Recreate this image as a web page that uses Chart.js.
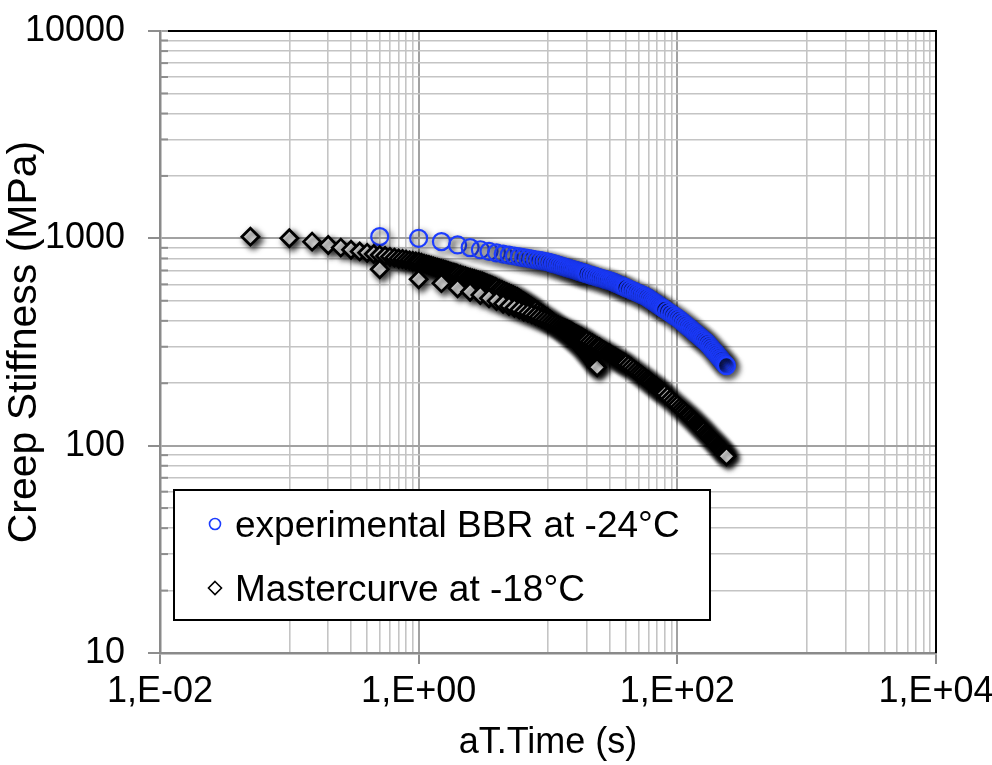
<!DOCTYPE html>
<html><head><meta charset="utf-8">
<script src="https://cdn.jsdelivr.net/npm/chart.js@4.4.1/dist/chart.umd.min.js"></script>
<style>html,body{margin:0;padding:0;background:#fff;}#wrap{width:992px;height:765px;position:relative;}</style>
</head><body><div id="wrap"><canvas id="c" width="992" height="765"></canvas></div>
<script>
// ---- data ----
const seriesLabels = ['experimental BBR at -24°C', 'Mastercurve at -18°C'];

const bbrTime = [0.5,1,1.5,2,2.5,3,3.5,4,4.5,5,5.5,6,6.5,7,7.5,8,8.5,9,9.5,10,
  10.5,11,11.5,12,12.5,13,13.5,14,14.5,15,15.5,16,16.5,17,17.5,18,18.5,19,19.5,20,
  21,22,23,24,25,26,27,28,29,30,31,32,33,34,35,36,37,38,39,40,
  42,44,46,48,50,52,54,56,58,60,62,64,66,68,70,72,74,76,78,80,
  84,88,92,96,100,104,108,112,116,120,124,128,132,136,140,144,148,152,156,160,
  165,170,175,180,185,190,195,200,205,210,215,220,225,230,235,240];
const bbrStiffness = [1019,1000,964,929,902,881,865,851,840,830,822,814,807,800,794,788,783,778,773,769,
  762,755,749,743,737,731,726,721,716,711,707,703,699,695,691,687,683,680,677,673,
  667,661,656,650,645,640,636,631,627,623,619,615,609,604,599,595,590,586,582,578,
  570,563,556,549,543,537,532,526,521,513,506,499,493,487,481,475,469,464,459,454,
  445,436,428,420,413,406,398,390,383,376,370,364,358,352,347,342,337,332,328,323,
  318,313,306,300,294,288,283,278,273,268,263,259,254,250,246,243];

const master1Time = [0.05,0.1,0.15,0.2,0.25,0.3,0.35,0.4,0.45,0.5,0.55,0.6,0.65,0.7,0.75,0.8,0.85,0.9,0.95,1,
  1.05,1.1,1.15,1.2,1.25,1.3,1.35,1.4,1.45,1.5,1.55,1.6,1.65,1.7,1.75,1.8,1.85,1.9,1.95,2,
  2.1,2.2,2.3,2.4,2.5,2.6,2.7,2.8,2.9,3,3.1,3.2,3.3,3.4,3.5,3.6,3.7,3.8,3.9,4,
  4.2,4.4,4.6,4.8,5,5.2,5.4,5.6,5.8,6,6.2,6.4,6.6,6.8,7,7.2,7.4,7.6,7.8,8,
  8.4,8.8,9.2,9.6,10,10.4,10.8,11.2,11.6,12,12.4,12.8,13.2,13.6,14,14.4,14.8,15.2,15.6,16,
  16.5,17,17.5,18,18.5,19,19.5,20,20.5,21,21.5,22,22.5,23,23.5,24];
const master1Stiffness = [1019,1000,964,929,902,881,865,851,840,830,822,814,807,800,794,788,783,778,773,769,
  762,755,749,743,737,731,726,721,716,711,707,703,699,695,691,687,683,680,677,673,
  667,661,656,650,645,640,636,631,627,623,619,615,609,604,599,595,590,586,582,578,
  570,563,556,549,543,537,532,526,521,513,506,499,493,487,481,475,469,464,459,454,
  445,436,428,420,413,406,398,390,383,376,370,364,358,352,347,342,337,332,328,323,
  318,313,306,300,294,288,283,278,273,268,263,258,253,248,243,239];

const master2Time = [0.5,1,1.5,2,2.5,3,3.5,4,4.5,5,5.5,6,6.5,7,7.5,8,8.5,9,9.5,10,
  10.5,11,11.5,12,12.5,13,13.5,14,14.5,15,15.5,16,16.5,17,17.5,18,18.5,19,19.5,20,
  21,22,23,24,25,26,27,28,29,30,31,32,33,34,35,36,37,38,39,40,
  42,44,46,48,50,52,54,56,58,60,62,64,66,68,70,72,74,76,78,80,
  84,88,92,96,100,104,108,112,116,120,124,128,132,136,140,144,148,152,156,160,
  165,170,175,180,185,190,195,200,205,210,215,220,225,230,235,240];
const master2Stiffness = [710,635,608,574,553,533,514,498,484,472,462,453,444,437,430,423,417,411,405,399,
  394,389,385,380,376,372,368,365,361,357,353,349,345,342,338,335,332,328,325,322,
  317,312,307,302,298,293,289,285,281,278,274,271,268,265,262,259,256,254,251,249,
  244,239,234,229,225,221,217,213,209,206,203,199,196,194,191,188,186,183,180,178,
  173,168,164,160,157,153,150,147,144,141,139,136,133,131,128,126,124,122,120,118,
  115,113,111,109,107,105,104,102,100,98,97,95,94,92,91,89];

const xTickValues = [0.01, 1, 100, 10000];
const xTickLabels = ['1,E-02', '1,E+00', '1,E+02', '1,E+04'];
const yTickValues = [10, 100, 1000, 10000];
const yTickLabels = ['10', '100', '1000', '10000'];

// ---- helpers ----
const FONT = "'Liberation Sans', Arial, sans-serif";
function pts(xs, ys){ return xs.map((x,i)=>({x:x, y:ys[i]})); }
function isIn(list, v){ return list.some(t => Math.abs(Math.log10(t) - Math.log10(v)) < 1e-6); }
function idxIn(list, v){ return list.findIndex(t => Math.abs(Math.log10(t) - Math.log10(v)) < 1e-6); }

function xGridValues(){
  const out = xTickValues.slice();
  for (let e = -1; e <= 3; e += 2) for (let k = 1; k <= 9; k++) out.push(k * Math.pow(10, e));
  return out.sort((a,b)=>a-b);
}
function yGridValues(){
  const out = yTickValues.slice();
  for (let e = 1; e <= 3; e++) for (let k = 2; k <= 9; k++) out.push(k * Math.pow(10, e));
  return out.sort((a,b)=>a-b);
}

const framePlugin = {
  id: 'frame',
  beforeDatasetsDraw(chart){
    const {ctx, chartArea: a} = chart;
    ctx.save();
    const ys = chart.scales.y;
    ctx.strokeStyle = '#8e8e8e'; ctx.lineWidth = 2;
    ys.ticks.forEach(t => {
      if (isIn(yTickValues, t.value)) return;
      const py = ys.getPixelForValue(t.value);
      ctx.beginPath(); ctx.moveTo(a.left, py); ctx.lineTo(a.left + 8, py); ctx.stroke();
    });
    ctx.strokeStyle = '#000'; ctx.lineWidth = 2;
    ctx.beginPath(); ctx.moveTo(a.left + 8, a.top); ctx.lineTo(a.right, a.top); ctx.lineTo(a.right, a.bottom); ctx.stroke();
    ctx.restore();
    ctx.save();
    ctx.shadowColor = 'rgba(0,0,0,0.85)';
    ctx.shadowBlur = 6;
    ctx.shadowOffsetX = 3;
    ctx.shadowOffsetY = 3;
  },
  afterDatasetsDraw(chart){ chart.ctx.restore(); }
};

const legendPlugin = {
  id: 'boxLegend',
  afterDraw(chart){
    const {ctx, chartArea: a} = chart;
    const L = a.left + 14, T = a.top + 459, R = a.left + 550, B = a.top + 589;
    ctx.save();
    ctx.fillStyle = '#fff';
    ctx.fillRect(L, T, R - L, B - T);
    ctx.strokeStyle = '#000'; ctx.lineWidth = 2;
    ctx.strokeRect(L, T, R - L, B - T);
    const ds = chart.data.datasets;
    const rows = [T + 37, T + 101];
    ds.forEach((d, i) => {
      const mx = L + 41, my = rows[i] - 3;
      ctx.lineWidth = 1.6;
      ctx.strokeStyle = d.borderColor;
      ctx.fillStyle = d.backgroundColor;
      ctx.beginPath();
      if (d.pointStyle === 'circle') {
        ctx.arc(mx, my, 5.5, 0, Math.PI * 2);
      } else {
        const r = 6.5;
        ctx.moveTo(mx, my - r); ctx.lineTo(mx + r, my); ctx.lineTo(mx, my + r); ctx.lineTo(mx - r, my); ctx.closePath();
      }
      ctx.fill(); ctx.stroke();
      ctx.fillStyle = '#000';
      ctx.font = '37px ' + FONT;
      ctx.textBaseline = 'middle';
      ctx.textAlign = 'left';
      ctx.fillText(d.label, L + 61, rows[i]);
    });
    ctx.restore();
  }
};

new Chart(document.getElementById('c'), {
  type: 'scatter',
  data: {
    datasets: [
      {
        label: seriesLabels[0],
        data: pts(bbrTime, bbrStiffness),
        pointStyle: 'circle',
        pointRadius: 8.5,
        borderWidth: 2.2,
        borderColor: '#1c3cff',
        backgroundColor: 'rgba(0,0,0,0)',
        showLine: false,
        order: 2
      },
      {
        label: seriesLabels[1],
        data: pts(master1Time, master1Stiffness).concat(pts(master2Time, master2Stiffness)),
        pointStyle: 'rectRot',
        pointRadius: 8.5,
        borderWidth: 2.8,
        borderColor: '#000',
        backgroundColor: '#fff',
        showLine: false,
        order: 1
      }
    ]
  },
  options: {
    responsive: false,
    animation: false,
    devicePixelRatio: 1,
    events: [],
    layout: { padding: { left: 0, right: 56, top: 31, bottom: 0 } },
    plugins: { legend: { display: false }, tooltip: { enabled: false }, title: { display: false } },
    scales: {
      x: {
        type: 'logarithmic',
        min: 0.01, max: 10000,
        afterBuildTicks(scale){ scale.ticks = xGridValues().map(v => ({value: v})); },
        afterFit(scale){ scale.height = 112; scale.paddingLeft = 0; scale.paddingRight = 0; },
        ticks: {
          autoSkip: false, maxRotation: 0, minRotation: 0, padding: 6,
          color: '#000', font: { family: FONT, size: 36 },
          callback(v){ const i = idxIn(xTickValues, v); return i >= 0 ? xTickLabels[i] : ''; }
        },
        grid: {
          drawTicks: true, tickLength: 11,
          color: c => isIn(xTickValues, c.tick.value) ? '#a2a2a2' : '#c4c4c4',
          lineWidth: c => isIn(xTickValues, c.tick.value) ? 2 : 1.6,
          tickColor: c => isIn(xTickValues, c.tick.value) ? '#8e8e8e' : 'rgba(0,0,0,0)',
          tickWidth: 2
        },
        border: { color: '#8a8a8a', width: 2.5 },
        title: { display: true, text: 'aT.Time (s)', color: '#000', font: { family: FONT, size: 36 }, padding: { top: 0, bottom: 0 } }
      },
      y: {
        type: 'logarithmic',
        min: 10, max: 10000,
        afterBuildTicks(scale){ scale.ticks = yGridValues().map(v => ({value: v})); },
        afterFit(scale){ scale.width = 160; scale.paddingTop = 0; scale.paddingBottom = 0; },
        ticks: {
          autoSkip: false, padding: 23,
          color: '#000', font: { family: FONT, size: 36 },
          callback(v){ const i = idxIn(yTickValues, v); return i >= 0 ? yTickLabels[i] : ''; }
        },
        grid: {
          drawTicks: true, tickLength: 12,
          color: c => isIn(yTickValues, c.tick.value) ? '#a2a2a2' : '#c4c4c4',
          lineWidth: c => isIn(yTickValues, c.tick.value) ? 2 : 1.6,
          tickColor: c => isIn(yTickValues, c.tick.value) ? '#8e8e8e' : 'rgba(0,0,0,0)',
          tickWidth: 2
        },
        border: { color: '#8a8a8a', width: 2.5 },
        title: { display: true, text: 'Creep Stiffness (MPa)', color: '#000', font: { family: FONT, size: 41 }, padding: { top: 0, bottom: 0 } }
      }
    }
  },
  plugins: [framePlugin, legendPlugin]
});
</script>
</body></html>
